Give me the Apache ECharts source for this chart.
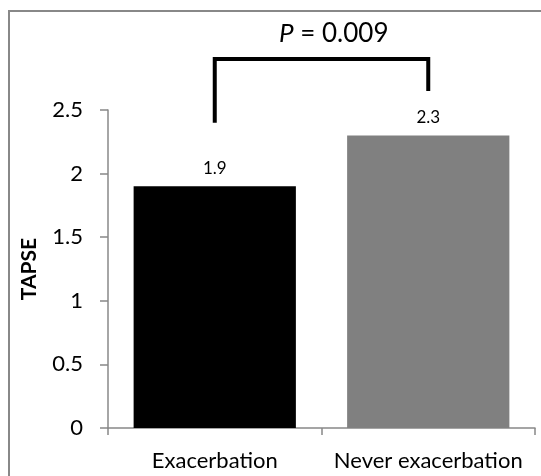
<!DOCTYPE html>
<html>
<head>
<meta charset="utf-8">
<script src="https://cdn.jsdelivr.net/npm/echarts@6/dist/echarts.min.js"></script>
<style>
html,body{margin:0;padding:0;background:#fff;}
#chart{width:541px;height:476px;}
</style>
</head>
<body>
<div id="chart"></div>
<script>
var categories = ['Exacerbation', 'Never exacerbation'];
var tapseValues = [1.9, 2.3];
var barColors = ['#000000', '#808080'];
var bracketY = [2.4, 2.9, 2.65];
var pText = '0.009';
var yAxisName = 'TAPSE';

var chart = echarts.init(document.getElementById('chart'));
var FONT = 'Lato, "Open Sans", sans-serif';

chart.setOption({
  animation: false,
  backgroundColor: '#ffffff',
  title: {
    text: '{i|P} = ' + pText,
    left: 274,
    top: 16,
    textStyle: {
      fontFamily: FONT, fontSize: 26, fontWeight: 'normal', color: '#000',
      rich: { i: { fontFamily: FONT, fontSize: 26, fontStyle: 'italic', color: '#000' } }
    }
  },
  graphic: [{
    type: 'rect',
    shape: { x: 9, y: 11, width: 700, height: 700 },
    style: { fill: 'none', stroke: '#888888', lineWidth: 2 },
    silent: true
  }],
  grid: { left: 108, right: 6, top: 110, bottom: 48 },
  xAxis: {
    type: 'category',
    data: categories,
    axisLine: { lineStyle: { color: '#888888', width: 1.5 } },
    axisTick: { show: true, length: 7, lineStyle: { color: '#888888', width: 1.5 } },
    axisLabel: { interval: 0, color: '#000', fontFamily: FONT, fontSize: 22, margin: 22 }
  },
  yAxis: {
    type: 'value',
    min: 0, max: 2.5, interval: 0.5,
    name: yAxisName,
    nameLocation: 'middle',
    nameGap: 68,
    nameTextStyle: { color: '#000', fontFamily: FONT, fontSize: 21, fontWeight: 'bold' },
    splitLine: { show: false },
    axisLine: { show: true, lineStyle: { color: '#888888', width: 1.5 } },
    axisTick: { show: true, length: 8, lineStyle: { color: '#888888', width: 1.5 } },
    axisLabel: { color: '#000', fontFamily: FONT, fontSize: 22, margin: 25 }
  },
  series: [{
    type: 'bar',
    barCategoryGap: '24%',
    data: tapseValues.map(function (v, i) {
      return { value: v, itemStyle: { color: barColors[i] } };
    }),
    label: {
      show: true, position: 'top', distance: 9,
      color: '#000', fontFamily: FONT, fontSize: 17
    }
  }, {
    type: 'line',
    clip: false,
    symbol: 'none',
    lineStyle: { color: '#000', width: 4, join: 'miter' },
    data: [
      [categories[0], bracketY[0]],
      [categories[0], bracketY[1]],
      [categories[1], bracketY[1]],
      [categories[1], bracketY[2]]
    ],
    z: 5
  }]
});
</script>
</body>
</html>
